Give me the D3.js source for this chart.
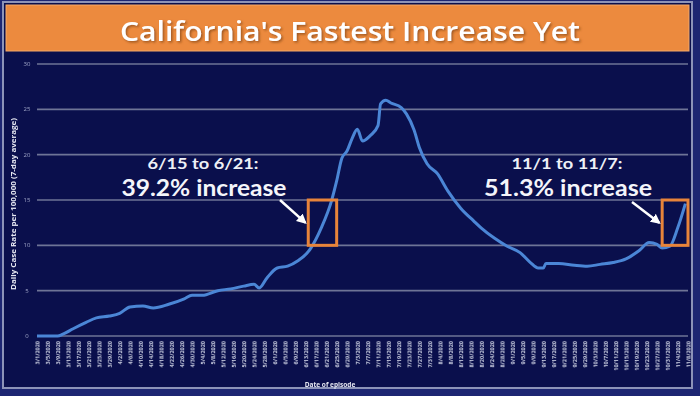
<!DOCTYPE html>
<html>
<head>
<meta charset="utf-8">
<script src="https://cdn.jsdelivr.net/npm/d3@7"></script>
<style>
    body { margin: 0; background: #1d2672; }
    svg { display: block; }
</style>
</head>
<body>
<svg id="chart"></svg>
<script>
var title = "California's Fastest Increase Yet";
var yLabel = "Daily Case Rate per 100,000 (7-day average)";
var xLabel = "Date of episode";

// 7-day average daily case rate
var dates = [
    "3/1/2020", "3/9/2020", "3/11/2020", "3/15/2020", "3/20/2020", "3/24/2020", "3/29/2020",
    "4/2/2020", "4/6/2020", "4/11/2020", "4/15/2020", "4/21/2020", "4/27/2020", "4/30/2020",
    "5/4/2020", "5/10/2020", "5/15/2020", "5/20/2020", "5/24/2020", "5/26/2020", "5/29/2020",
    "6/2/2020", "6/6/2020", "6/10/2020", "6/14/2020", "6/15/2020", "6/19/2020", "6/23/2020",
    "6/25/2020", "6/27/2020", "6/29/2020", "7/1/2020", "7/3/2020", "7/5/2020", "7/8/2020",
    "7/11/2020", "7/12/2020", "7/14/2020", "7/16/2020", "7/20/2020", "7/22/2020", "7/25/2020",
    "7/27/2020", "7/30/2020", "8/3/2020", "8/7/2020", "8/12/2020", "8/17/2020", "8/20/2020",
    "8/25/2020", "8/30/2020", "9/4/2020", "9/8/2020", "9/11/2020", "9/13/2020", "9/14/2020",
    "9/19/2020", "9/25/2020", "9/30/2020", "10/5/2020", "10/10/2020", "10/15/2020", "10/20/2020",
    "10/24/2020", "10/27/2020", "10/29/2020", "11/1/2020", "11/4/2020", "11/7/2020"
];
var rates = [
    0, 0, 0.2, 0.8, 1.5, 2.0, 2.2,
    2.5, 3.2, 3.3, 3.1, 3.5, 4.1, 4.5,
    4.5, 5.0, 5.2, 5.5, 5.7, 5.3, 6.4,
    7.5, 7.7, 8.3, 9.3, 9.7, 11.9, 14.9,
    17.1, 19.6, 20.4, 21.8, 22.8, 21.5, 22.1,
    23.2, 25.6, 26.0, 25.7, 25.2, 24.5, 22.7,
    20.8, 19.0, 17.9, 16.0, 14.1, 12.7, 11.9,
    10.8, 9.9, 9.2, 8.1, 7.5, 7.5, 8.0,
    8.0, 7.8, 7.7, 7.9, 8.1, 8.5, 9.4,
    10.3, 10.1, 9.7, 9.9, 11.9, 14.6
];

var yTicks = [0, 5, 10, 15, 20, 25, 30];
var tickDates = [
    "3/1/2020", "3/5/2020", "3/9/2020", "3/13/2020", "3/17/2020", "3/21/2020", "3/25/2020", "3/29/2020",
    "4/2/2020", "4/6/2020", "4/10/2020", "4/14/2020", "4/18/2020", "4/22/2020", "4/26/2020", "4/30/2020",
    "5/4/2020", "5/8/2020", "5/12/2020", "5/16/2020", "5/20/2020", "5/24/2020", "5/28/2020",
    "6/1/2020", "6/5/2020", "6/9/2020", "6/13/2020", "6/17/2020", "6/21/2020", "6/25/2020", "6/29/2020",
    "7/3/2020", "7/7/2020", "7/11/2020", "7/15/2020", "7/19/2020", "7/23/2020", "7/27/2020", "7/31/2020",
    "8/4/2020", "8/8/2020", "8/12/2020", "8/16/2020", "8/20/2020", "8/24/2020", "8/28/2020",
    "9/1/2020", "9/5/2020", "9/9/2020", "9/13/2020", "9/17/2020", "9/21/2020", "9/25/2020", "9/29/2020",
    "10/3/2020", "10/7/2020", "10/11/2020", "10/15/2020", "10/19/2020", "10/23/2020", "10/27/2020", "10/31/2020",
    "11/4/2020", "11/8/2020"
];

// highlighted weeks: box extent in dates and rate
var boxStarts = ["6/14/2020", "10/29/2020"];
var boxEnds = ["6/25/2020", "11/8/2020"];
var boxLow = [10, 10];
var boxHigh = [15, 15];
var noteLine1 = ["6/15 to 6/21:", "11/1 to 11/7:"];
var noteLine2 = ["39.2% increase", "51.3% increase"];

var W = 700, H = 396;
var margin = {left: 37, right: 12, top: 64, bottom: 60};

var parse = d3.timeParse("%m/%d/%Y");

var svg = d3.select("#chart")
    .attr("width", W)
    .attr("height", H);

var defs = svg.append("defs");
var shadow = defs.append("filter").attr("id", "shadow")
    .attr("x", "-5%").attr("y", "-20%").attr("width", "110%").attr("height", "140%");
shadow.append("feDropShadow")
    .attr("dx", 1.5).attr("dy", 1.5).attr("stdDeviation", 1)
    .attr("flood-color", "#8a4a16").attr("flood-opacity", 0.8);

var blur = defs.append("filter").attr("id", "soft");
blur.append("feGaussianBlur").attr("stdDeviation", 0.35);

var arrow = defs.append("marker")
    .attr("id", "arrow")
    .attr("viewBox", "0 0 10 10")
    .attr("refX", 8).attr("refY", 5)
    .attr("markerWidth", 4).attr("markerHeight", 4)
    .attr("orient", "auto");
arrow.append("path").attr("d", "M0,0L10,5L0,10z").attr("fill", "#fff");

// panel
svg.append("rect")
    .attr("x", 0).attr("y", 0).attr("width", W).attr("height", H)
    .attr("fill", "#1d2672");
svg.append("rect")
    .attr("x", 3).attr("y", 2).attr("width", 689).attr("height", 386)
    .attr("fill", "#0a0f4c")
    .attr("stroke", "#8c93b8")
    .attr("stroke-width", 2);

// title banner
svg.append("rect")
    .attr("x", 6).attr("y", 5).attr("width", 683).attr("height", 46)
    .attr("fill", "#ec8a3e")
    .attr("stroke", "#f3a868")
    .attr("stroke-width", 1);
svg.append("text")
    .attr("x", 350).attr("y", 41)
    .attr("text-anchor", "middle")
    .attr("textLength", 460)
    .attr("lengthAdjust", "spacingAndGlyphs")
    .attr("filter", "url(#shadow)")
    .style("font-family", "'Open Sans', Lato, sans-serif")
    .style("font-size", "27px")
    .style("font-weight", "600")
    .style("fill", "#fff")
    .text(title);

var x = d3.scaleTime()
    .domain([parse(tickDates[0]), parse(tickDates[tickDates.length - 1])])
    .range([margin.left, W - margin.right]);

var y = d3.scaleLinear()
    .domain([0, 30])
    .range([H - margin.bottom, margin.top]);

// gridlines
svg.append("g")
    .selectAll("line")
    .data(yTicks)
    .enter().append("line")
    .attr("x1", margin.left)
    .attr("x2", W - margin.right)
    .attr("y1", function(d) { return y(d); })
    .attr("y2", function(d) { return y(d); })
    .attr("stroke", "#6e7496")
    .attr("stroke-width", 1.6);

svg.append("g")
    .selectAll("text")
    .data(yTicks)
    .enter().append("text")
    .attr("x", 27)
    .attr("y", function(d) { return y(d) + 2; })
    .attr("text-anchor", "middle")
    .attr("filter", "url(#soft)")
    .style("font-family", "'Open Sans', sans-serif")
    .style("font-size", "6px")
    .style("fill", "#9ea4c6")
    .text(function(d) { return d; });

svg.append("text")
    .attr("transform", "translate(16," + ((margin.top + H - margin.bottom) / 2 + 4) + ") rotate(-90)")
    .attr("text-anchor", "middle")
    .attr("textLength", 172)
    .attr("lengthAdjust", "spacingAndGlyphs")
    .attr("filter", "url(#soft)")
    .style("font-family", "'Open Sans', sans-serif")
    .style("font-size", "7px")
    .style("font-weight", "700")
    .style("fill", "#e6e8f2")
    .text(yLabel);

// x axis tick labels
var xAxis = d3.axisBottom(x)
    .tickValues(tickDates.map(parse))
    .tickFormat(d3.timeFormat("%-m/%-d/%Y"))
    .tickSize(0);

var gx = svg.append("g")
    .attr("transform", "translate(0," + (H - margin.bottom + 2) + ")")
    .call(xAxis);
gx.select(".domain").remove();
gx.selectAll("text")
    .attr("transform", "rotate(-90)")
    .attr("x", -3)
    .attr("y", 0)
    .attr("dy", "0.35em")
    .attr("text-anchor", "end")
    .attr("filter", "url(#soft)")
    .style("font-family", "'Open Sans', sans-serif")
    .style("font-size", "5.5px")
    .style("font-weight", "700")
    .style("fill", "#c9cde0");

svg.append("text")
    .attr("x", 330).attr("y", 387)
    .attr("text-anchor", "middle")
    .attr("filter", "url(#soft)")
    .style("font-family", "'Open Sans', sans-serif")
    .style("font-size", "6.5px")
    .style("font-weight", "700")
    .style("fill", "#e6e8f2")
    .text(xLabel);

// series
var points = dates.map(function(d, i) {
    return {date: parse(d), rate: rates[i]};
});

var line = d3.line()
    .x(function(d) { return x(d.date); })
    .y(function(d) { return y(d.rate); })
    .curve(d3.curveMonotoneX);

svg.append("path")
    .datum(points)
    .attr("d", line)
    .attr("fill", "none")
    .attr("stroke", "#4b86d6")
    .attr("stroke-width", 3)
    .attr("stroke-linejoin", "round");

// highlight boxes
svg.append("g")
    .selectAll("rect")
    .data(boxStarts)
    .enter().append("rect")
    .attr("x", function(d) { return x(parse(d)); })
    .attr("y", function(d, i) { return y(boxHigh[i]); })
    .attr("width", function(d, i) { return x(parse(boxEnds[i])) - x(parse(d)); })
    .attr("height", function(d, i) { return y(boxLow[i]) - y(boxHigh[i]); })
    .attr("fill", "none")
    .attr("stroke", "#e8843a")
    .attr("stroke-width", 3);

// notes
var noteX = [203, 567];
var line1Len = [111, 111];
var line2Len = [165, 168];
var notes = svg.append("g")
    .selectAll("g")
    .data(noteLine1)
    .enter().append("g");

notes.append("text")
    .attr("x", function(d, i) { return noteX[i]; })
    .attr("y", 169)
    .attr("text-anchor", "middle")
    .attr("textLength", function(d, i) { return line1Len[i]; })
    .attr("lengthAdjust", "spacingAndGlyphs")
    .style("font-family", "Lato, 'Open Sans', sans-serif")
    .style("font-size", "16px")
    .style("font-weight", "700")
    .style("fill", "#eef0f6")
    .text(function(d) { return d; });

notes.append("text")
    .attr("x", function(d, i) { return noteX[i] + 1; })
    .attr("y", 196)
    .attr("text-anchor", "middle")
    .attr("textLength", function(d, i) { return line2Len[i]; })
    .attr("lengthAdjust", "spacingAndGlyphs")
    .style("font-family", "Lato, 'Open Sans', sans-serif")
    .style("font-size", "22px")
    .style("font-weight", "700")
    .style("fill", "#f4f5fa")
    .text(function(d, i) { return noteLine2[i]; });

// arrows point at the boxes
var arrowFrom = [[280, 200], [632, 202]];
notes.append("line")
    .attr("x1", function(d, i) { return arrowFrom[i][0]; })
    .attr("y1", function(d, i) { return arrowFrom[i][1]; })
    .attr("x2", function(d, i) { return x(parse(boxStarts[i])) - 3; })
    .attr("y2", function(d, i) { return y(boxLow[i] + 2.5); })
    .attr("stroke", "#fff")
    .attr("stroke-width", 2.5)
    .attr("marker-end", "url(#arrow)");
</script>
</body>
</html>
